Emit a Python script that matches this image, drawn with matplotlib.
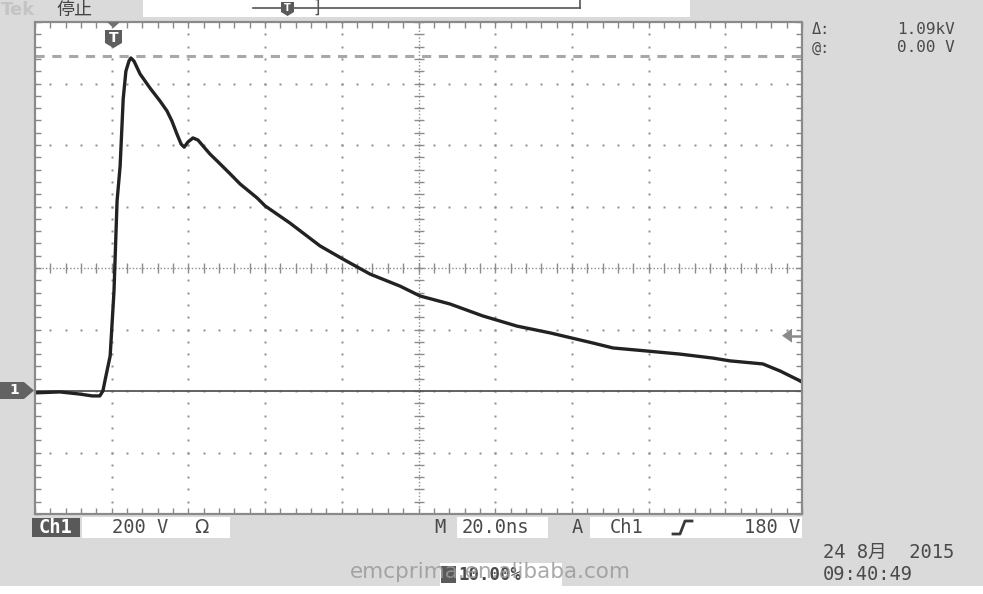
import numpy as np
import matplotlib
matplotlib.use("Agg")
import matplotlib.pyplot as plt
from matplotlib.patches import Rectangle, Polygon

plt.rcParams['font.family'] = ['DejaVu Sans', 'Noto Sans CJK SC']

# ---- data (time in ns, voltage in V) ----
t_ns = [0, 6.5, 11.7, 14.9, 16.9, 17.7, 18.5, 19.6, 20.6, 21.4, 22.2, 23.0, 23.7, 24.5,
        25.0, 25.8, 27.4, 30.0, 32.6, 34.4, 35.7, 37.0, 38.1, 38.9, 39.9, 41.2, 42.5,
        43.8, 45.6, 47.5, 50.9, 53.5, 57.9, 60.0, 66.5, 74.3, 80.3, 87.4, 95.2, 100.4,
        108.2, 116.8, 125.7, 134.3, 145.5, 150.7, 159.6, 168.2, 176.8, 181.2, 189.8,
        194.3, 199.0, 200.0]
volts = [-6, -3, -10, -16, -16, 0, 49, 114, 325, 618, 732, 950, 1040, 1073,
         1083, 1073, 1031, 985, 943, 911, 878, 836, 803, 793, 810, 823, 816,
         797, 771, 748, 706, 673, 628, 602, 546, 472, 429, 380, 341, 309,
         283, 244, 211, 189, 156, 140, 130, 120, 107, 98, 88,
         65, 36, 29]
cursor_v = 1090        # delta cursor
trigger_level_v = 180

W, H = 983, 594
BG = '#dadada'
fig = plt.figure(figsize=(W / 100, H / 100), dpi=100, facecolor=BG)

def fx(x):
    return x / W

def fy(y):
    return 1 - y / H

# graticule axes in pixel layout
L, R, T, B = 35, 802, 22, 514
ax = fig.add_axes([fx(L), fy(B), (R - L) / W, (B - T) / H])
ax.set_facecolor('white')
ax.set_xlim(0, 200)
ax.set_ylim(-400, 1200)
ax.set_xticks([])
ax.set_yticks([])
ax.set_xticks(np.arange(0, 200.01, 4), minor=True)
ax.set_yticks(np.arange(-400, 1200.01, 40), minor=True)
ax.tick_params(which='minor', direction='in', length=4, width=1, color='#888888',
               top=True, right=True, labelbottom=False, labelleft=False)
for s in ax.spines.values():
    s.set_color('#8a8a8a')
    s.set_linewidth(1.6)
    s.set_linestyle((0, (1, 1)))

gc = '#8c8c8c'
# sparse grid dots
for xv in np.arange(20, 200, 20):
    if xv == 100:
        continue
    yy = np.arange(-400, 1200.01, 40)
    ax.plot(np.full_like(yy, xv), yy, ls='none', marker='s', ms=1.4, color=gc, mew=0)
for yv in np.arange(-200, 1200, 200):
    if yv == 400:
        continue
    xx = np.arange(0, 200.01, 4)
    ax.plot(xx, np.full_like(xx, yv), ls='none', marker='s', ms=1.4, color=gc, mew=0)
# center crosshair
ax.plot([100, 100], [-400, 1200], color=gc, lw=1.0, ls=(0, (1, 1.5)))
ax.plot([0, 200], [400, 400], color=gc, lw=1.0, ls=(0, (1, 1.5)))
xx = np.arange(0, 200.01, 4)
ax.plot(xx, np.full_like(xx, 400), ls='none', marker='|', ms=7, color=gc, mew=1)
yy = np.arange(-400, 1200.01, 40)
ax.plot(np.full_like(yy, 100), yy, ls='none', marker='_', ms=7, color=gc, mew=1)

# cursor dashed line
ax.axhline(cursor_v, color='#a8a8a8', lw=2.2, ls=(0, (3, 2.5)))
# ground reference line
ax.axhline(0, color='#555555', lw=1.3)
# waveform
ax.plot(t_ns, volts, color='#222222', lw=2.4, solid_joinstyle='round')

# ---- overlay graphics (pixel coords) ----
def frect(x0, y0, x1, y1, fc, ec='none'):
    fig.patches.append(Rectangle((fx(x0), fy(y1)), fx(x1) - fx(x0), fy(y0) - fy(y1),
                                 transform=fig.transFigure, fc=fc, ec=ec, zorder=0))

def fpoly(pts, fc):
    fig.patches.append(Polygon([(fx(x), fy(y)) for x, y in pts], closed=True,
                               transform=fig.transFigure, fc=fc, ec='none', zorder=3))

def fline(xs, ys, **kw):
    fig.add_artist(plt.Line2D([fx(x) for x in xs], [fy(y) for y in ys],
                              transform=fig.transFigure, **kw))

def ftext(x, y, s, **kw):
    kw.setdefault('va', 'center')
    kw.setdefault('color', '#4a4a4a')
    fig.text(fx(x), fy(y), s, **kw)

mono = 'DejaVu Sans Mono'

# header
frect(143, 0, 690, 17, 'white')
ftext(1, 10, 'Tek', fontsize=13, fontweight='bold', color='#c4c4c4')
ftext(56, 10, '停止', fontsize=13, color='#444444', family=['Noto Sans CJK SC'])
fline([253, 580], [8, 8], color='#555555', lw=1.2)
fline([580, 580], [0, 8], color='#555555', lw=1.2)
fpoly([(281, 2), (294, 2), (294, 12), (287.5, 16), (281, 12)], '#5a5a5a')
ftext(287.5, 8, 'T', fontsize=7, color='white', fontweight='bold', ha='center')
ftext(313, 8, ']', fontsize=12, color='#555555')

# trigger position marker on graticule
fpoly([(107, 22), (120, 22), (113.5, 28)], '#707070')
fpoly([(105, 30), (122, 30), (122, 43), (113.5, 48), (105, 43)], '#5e5e5e')
ftext(113.5, 38, 'T', fontsize=10, color='white', fontweight='bold', ha='center')

# ground marker "1"
fpoly([(0, 382), (24, 382), (34, 390.5), (24, 399), (0, 399)], '#626262')
ftext(14, 390.5, '1', fontsize=10, color='white', fontweight='bold', ha='center')

# trigger level arrow at right
tl_y = T + (1200 - trigger_level_v) / 1600 * (B - T)
fpoly([(782, tl_y), (792, tl_y - 7), (792, tl_y + 7)], '#8a8a8a')
fline([790, 800], [tl_y, tl_y], color='#8a8a8a', lw=1.8)

# top-right readouts
ftext(812, 30, 'Δ:', fontsize=11, family=mono)
ftext(955, 30, '1.09kV', fontsize=11.5, family=mono, ha='right')
ftext(812, 48, '@:', fontsize=11, family=mono)
ftext(955, 48, '0.00 V', fontsize=11.5, family=mono, ha='right')

# status bar
fs = 13.5
frect(32, 518, 80, 537, '#595959')
ftext(56, 527.5, 'Ch1', fontsize=fs, family=mono, color='white', ha='center', fontweight='bold')
frect(82, 517, 230, 538, 'white')
ftext(112, 527.5, '200 V', fontsize=fs, family=mono)
ftext(194, 527.5, 'Ω', fontsize=fs)
ftext(434, 527.5, 'M', fontsize=fs, family=mono)
frect(457, 517, 548, 538, 'white')
ftext(462, 527.5, '20.0ns', fontsize=fs, family=mono)
ftext(572, 527.5, 'A', fontsize=fs, family=mono)
frect(590, 517, 802, 538, 'white')
ftext(610, 527.5, 'Ch1', fontsize=fs, family=mono)
fline([673, 680, 685, 692], [534, 534, 521, 521], color='#3a3a3a', lw=2)
ftext(800, 527.5, '180 V', fontsize=fs, family=mono, ha='right')

# date / time
ftext(823, 552, '24 8月  2015', fontsize=13.5, family=[mono, 'Noto Sans CJK SC'])
ftext(823, 574, '09:40:49', fontsize=13.5, family=mono)

# trigger position readout + watermark
frect(440, 563, 562, 586, 'white')
frect(441, 566, 456, 583, '#5a5a5a')
ftext(458, 574.5, '10.00%', fontsize=12.5, family=mono, fontweight='bold')
ftext(350, 572, 'emcprima.en.alibaba.com', fontsize=15.5, color='#9a9a9a', alpha=0.85)

# white strip at bottom
frect(0, 586, 983, 594, 'white')

fig.savefig('out.png', dpi=100, facecolor=BG)
